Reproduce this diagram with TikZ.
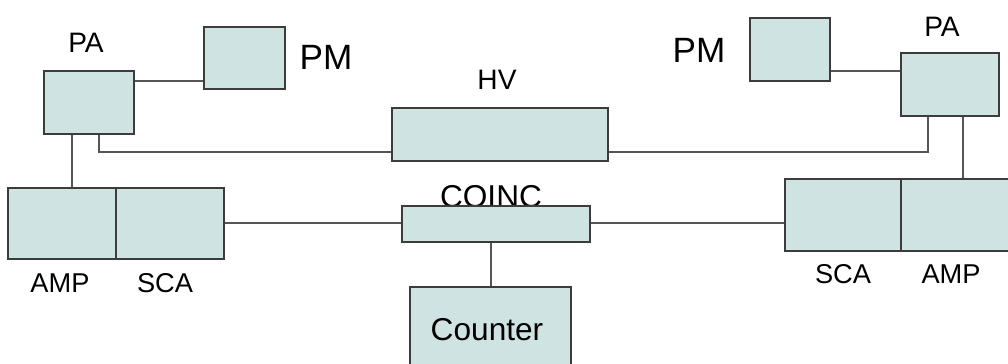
\documentclass[tikz,border=0pt]{standalone}
\usepackage{fontspec}
\setmainfont{Liberation Sans}
\usetikzlibrary{positioning}
\definecolor{unitfill}{RGB}{207,228,226}
\definecolor{unitdraw}{RGB}{60,60,60}
\definecolor{wire}{RGB}{85,85,85}

\begin{document}
\begin{tikzpicture}[x=0.02cm, y=-0.02cm,
    unit/.style={draw=unitdraw, fill=unitfill, line width=0.6pt, inner sep=0pt},
    wirestyle/.style={draw=wire, line width=0.6pt},
    lbl/.style={font=\fontsize{16}{18}\selectfont, inner sep=0pt},
    biglbl/.style={font=\fontsize{20}{22}\selectfont, inner sep=0pt}]
\clip (0,0) rectangle (1008,363);

% photomultipliers and preamps
\node[unit, minimum width=90*0.02cm, minimum height=63*0.02cm] (paL) at (89,102.5) {};
\node[unit, minimum width=81*0.02cm, minimum height=62*0.02cm] (pmL) at (244.5,58) {};
\node[unit, minimum width=80*0.02cm, minimum height=63*0.02cm] (pmR) at (790,49.5) {};
\node[unit, minimum width=98*0.02cm, minimum height=63*0.02cm] (paR) at (950,84.5) {};
\node[lbl] (paLtxt) at (86,43) {PA};
\node[lbl] (paRtxt) at (942,27) {PA};
\node[biglbl] (pmLtxt) at (326,57) {PM};
\node[biglbl] (pmRtxt) at (699,50) {PM};

% high voltage supply
\node[unit, minimum width=216*0.02cm, minimum height=53*0.02cm] (hv) at (500,134.5) {};
\node[lbl] (hvtxt) at (497,80) {HV};

% amplifiers and single channel analysers
\node[unit, minimum width=108*0.02cm, minimum height=71*0.02cm] (ampL) at (62,223.5) {};
\node[unit, minimum width=108*0.02cm, minimum height=71*0.02cm] (scaL) at (170,223.5) {};
\node[unit, minimum width=116*0.02cm, minimum height=72*0.02cm] (scaR) at (843,215) {};
\node[unit, minimum width=116*0.02cm, minimum height=72*0.02cm] (ampR) at (959,215) {};
\node[lbl, font=\fontsize{15.5}{17}\selectfont] (ampLtxt) at (60,283) {AMP};
\node[lbl, font=\fontsize{15.5}{17}\selectfont] (scaLtxt) at (165,283) {SCA};
\node[lbl, font=\fontsize{15.5}{17}\selectfont] (scaRtxt) at (843,274) {SCA};
\node[lbl, font=\fontsize{15.5}{17}\selectfont] (ampRtxt) at (951,274) {AMP};

% coincidence unit and counter (label first, the box sits over its foot)
\node[unit, minimum width=161*0.02cm, minimum height=100*0.02cm] (counter) at (490.5,337) {};
\node[lbl, font=\fontsize{18}{20}\selectfont] (countertxt) at (487,330) {Counter};
\node[lbl, font=\fontsize{18}{20}\selectfont] (coinctxt) at (491,197) {COINC};
\node[unit, minimum width=188*0.02cm, minimum height=36*0.02cm] (coinc) at (496,224) {};

% wiring
\draw[wirestyle] (paL.east |- 0,81) -- (pmL.west |- 0,81);
\draw[wirestyle] (pmR.east |- 0,71) -- (paR.west |- 0,71);
\draw[wirestyle] (paL.south -| 72,0) -- (ampL.north -| 72,0);
\draw[wirestyle] (paL.south -| 99,0) |- (hv.west |- 0,152);
\draw[wirestyle] (hv.east |- 0,152) -| (paR.south -| 928,0);
\draw[wirestyle] (paR.south -| 963,0) -- (ampR.north -| 963,0);
\draw[wirestyle] (scaL.east |- 0,223) -- (coinc.west |- 0,223);
\draw[wirestyle] (coinc.east |- 0,223) -- (scaR.west |- 0,223);
\draw[wirestyle] (coinc.south -| 491,0) -- (counter.north -| 491,0);
\end{tikzpicture}
\end{document}
